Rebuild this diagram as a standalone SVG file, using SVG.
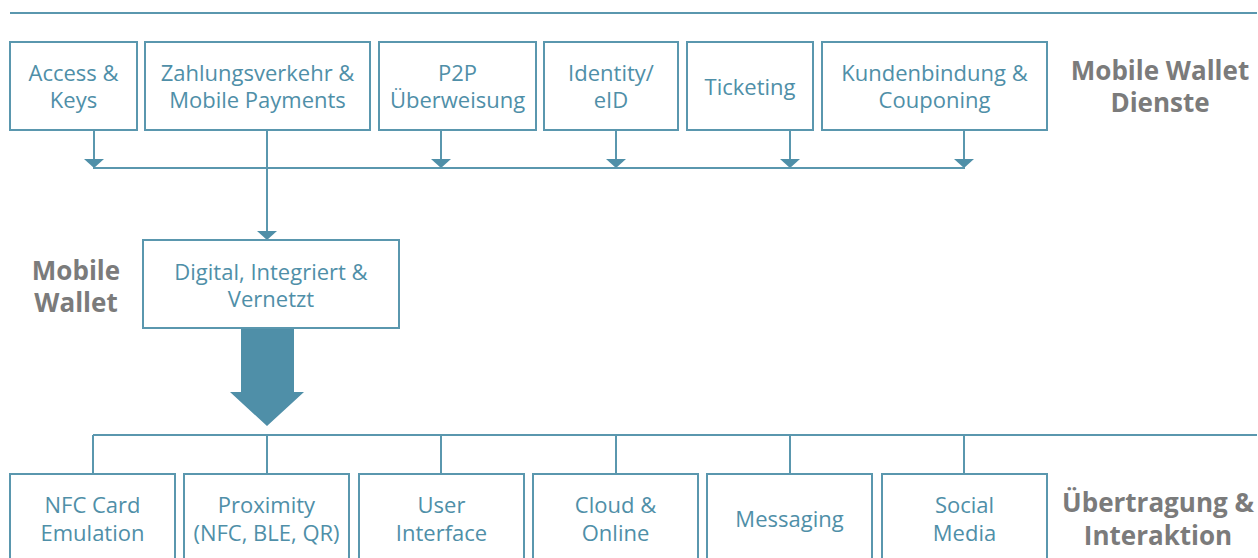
<svg xmlns="http://www.w3.org/2000/svg" width="1258" height="558" viewBox="0 0 1258 558">
  <style>
    .box { fill: #ffffff; stroke: #5a97ae; stroke-width: 2; }
    .line { fill: none; stroke: #5a97ae; stroke-width: 2; }
    .tip { fill: #4f8fa8; }
    .lbl { font-family: "Open Sans", "Noto Sans", sans-serif; font-size: 22px; fill: #4f8fa8; text-anchor: middle; }
    .head { font-family: "Open Sans", "Noto Sans", sans-serif; font-size: 26px; font-weight: bold; fill: #7b7b7b; text-anchor: middle; }
  </style>

  <!-- rule across the top -->
  <line class="line" x1="10" y1="13" x2="1257" y2="13"/>

  <!-- connectors -->
  <g id="connectors">
    <line class="line" x1="94" y1="130" x2="94" y2="159"/>
    <path class="tip" d="M84,159 L104,159 L94,168 Z"/>
    <line class="line" x1="441" y1="130" x2="441" y2="159"/>
    <path class="tip" d="M431,159 L451,159 L441,168 Z"/>
    <line class="line" x1="616" y1="130" x2="616" y2="159"/>
    <path class="tip" d="M606,159 L626,159 L616,168 Z"/>
    <line class="line" x1="790" y1="130" x2="790" y2="159"/>
    <path class="tip" d="M780,159 L800,159 L790,168 Z"/>
    <line class="line" x1="964" y1="130" x2="964" y2="159"/>
    <path class="tip" d="M954,159 L974,159 L964,168 Z"/>
    <line class="line" x1="93" y1="168" x2="965" y2="168"/>
    <line class="line" x1="267" y1="130" x2="267" y2="231"/>
    <path class="tip" d="M257,231 L277,231 L267,240 Z"/>
    <!-- broad arrow down to the transmission layer -->
    <path class="tip" d="M241,328 L294,328 L294,392 L304,392 L267,426 L230,392 L241,392 Z"/>
    <!-- lower distribution bus -->
    <line class="line" x1="93" y1="435" x2="1257" y2="435"/>
    <line class="line" x1="93" y1="435" x2="93" y2="474"/>
    <line class="line" x1="267" y1="435" x2="267" y2="474"/>
    <line class="line" x1="441" y1="435" x2="441" y2="474"/>
    <line class="line" x1="616" y1="435" x2="616" y2="474"/>
    <line class="line" x1="790" y1="435" x2="790" y2="474"/>
    <line class="line" x1="964" y1="435" x2="964" y2="474"/>
  </g>

  <!-- service layer -->
  <g id="access">
    <rect class="box" x="10" y="42" width="127" height="88"/>
    <text class="lbl" x="73.5" y="81">Access &amp;</text>
    <text class="lbl" x="73.5" y="108">Keys</text>
  </g>
  <g id="payments">
    <rect class="box" x="145" y="42" width="225" height="88"/>
    <text class="lbl" x="257.5" y="81">Zahlungsverkehr &amp;</text>
    <text class="lbl" x="257.5" y="108">Mobile Payments</text>
  </g>
  <g id="p2p">
    <rect class="box" x="379" y="42" width="157" height="88"/>
    <text class="lbl" x="457.5" y="81">P2P</text>
    <text class="lbl" x="457.5" y="108">Überweisung</text>
  </g>
  <g id="identity">
    <rect class="box" x="544" y="42" width="134" height="88"/>
    <text class="lbl" x="611" y="81">Identity/</text>
    <text class="lbl" x="611" y="108">eID</text>
  </g>
  <g id="ticketing">
    <rect class="box" x="687" y="42" width="126" height="88"/>
    <text class="lbl" x="750" y="95">Ticketing</text>
  </g>
  <g id="loyalty">
    <rect class="box" x="822" y="42" width="225" height="88"/>
    <text class="lbl" x="934.5" y="81">Kundenbindung &amp;</text>
    <text class="lbl" x="934.5" y="108">Couponing</text>
  </g>
  <g id="services-title">
    <text class="head" x="1160" y="80">Mobile Wallet</text>
    <text class="head" x="1160" y="112">Dienste</text>
  </g>

  <!-- wallet layer -->
  <g id="wallet-title">
    <text class="head" x="76" y="280">Mobile</text>
    <text class="head" x="76" y="312">Wallet</text>
  </g>
  <g id="wallet">
    <rect class="box" x="143" y="240" width="256" height="88"/>
    <text class="lbl" x="271" y="280">Digital, Integriert &amp;</text>
    <text class="lbl" x="271" y="307">Vernetzt</text>
  </g>

  <!-- transmission layer -->
  <g id="nfc">
    <rect class="box" x="10" y="474" width="165" height="100"/>
    <text class="lbl" x="92.5" y="513">NFC Card</text>
    <text class="lbl" x="92.5" y="541">Emulation</text>
  </g>
  <g id="proximity">
    <rect class="box" x="184" y="474" width="165" height="100"/>
    <text class="lbl" x="266.5" y="513">Proximity</text>
    <text class="lbl" x="266.5" y="541">(NFC, BLE, QR)</text>
  </g>
  <g id="ui">
    <rect class="box" x="359" y="474" width="165" height="100"/>
    <text class="lbl" x="441.5" y="513">User</text>
    <text class="lbl" x="441.5" y="541">Interface</text>
  </g>
  <g id="cloud">
    <rect class="box" x="533" y="474" width="165" height="100"/>
    <text class="lbl" x="615.5" y="513">Cloud &amp;</text>
    <text class="lbl" x="615.5" y="541">Online</text>
  </g>
  <g id="messaging">
    <rect class="box" x="707" y="474" width="165" height="100"/>
    <text class="lbl" x="789.5" y="527">Messaging</text>
  </g>
  <g id="social">
    <rect class="box" x="882" y="474" width="165" height="100"/>
    <text class="lbl" x="964.5" y="513">Social</text>
    <text class="lbl" x="964.5" y="541">Media</text>
  </g>
  <g id="transmission-title">
    <text class="head" x="1158" y="512">Übertragung &amp;</text>
    <text class="head" x="1158" y="545">Interaktion</text>
  </g>
</svg>
